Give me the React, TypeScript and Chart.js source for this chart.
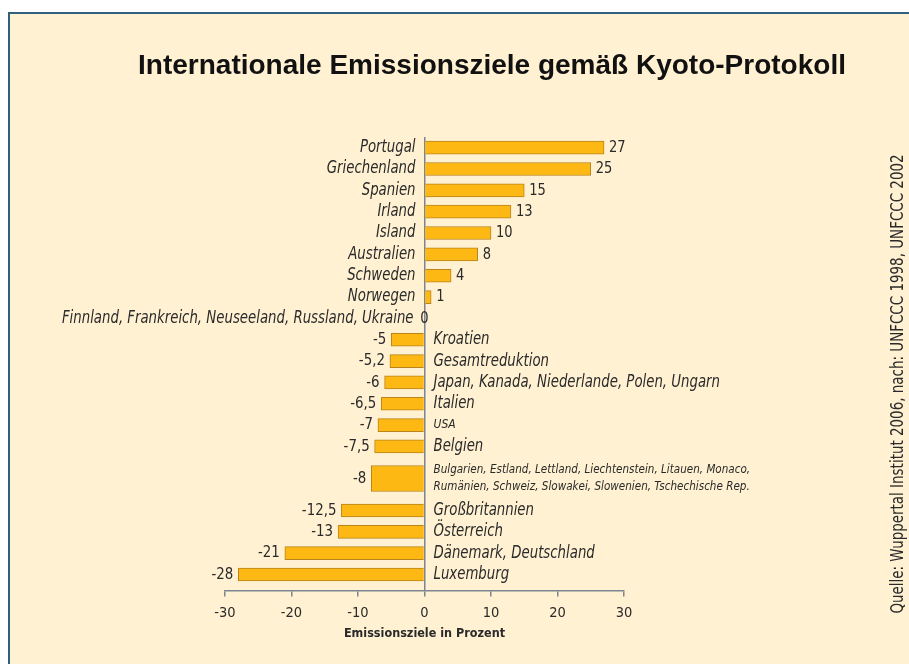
import React, { useEffect, useRef } from 'react';
import { Chart, registerables } from 'chart.js';

Chart.register(...registerables);

// ---------- data ----------
const titleText = 'Internationale Emissionsziele gemäß Kyoto-Protokoll';
const axisTitleText = 'Emissionsziele in Prozent';
const sourceText = 'Quelle: Wuppertal Institut 2006, nach: UNFCCC 1998, UNFCCC 2002';

const categories = [
  'Portugal',
  'Griechenland',
  'Spanien',
  'Irland',
  'Island',
  'Australien',
  'Schweden',
  'Norwegen',
  'Finnland, Frankreich, Neuseeland, Russland, Ukraine',
  'Kroatien',
  'Gesamtreduktion',
  'Japan, Kanada, Niederlande, Polen, Ungarn',
  'Italien',
  'USA',
  'Belgien',
  'Bulgarien, Estland, Lettland, Liechtenstein, Litauen, Monaco,\nRumänien, Schweiz, Slowakei, Slowenien, Tschechische Rep.',
  'Großbritannien',
  'Österreich',
  'Dänemark, Deutschland',
  'Luxemburg',
];

const values = [27, 25, 15, 13, 10, 8, 4, 1, 0, -5, -5.2, -6, -6.5, -7, -7.5, -8, -12.5, -13, -21, -28];

const xTicks = [-30, -20, -10, 0, 10, 20, 30];

// ---------- style ----------
const NARROW = "'Liberation Sans Narrow', 'DejaVu Sans Condensed', 'Arial Narrow', sans-serif";
const BAR_FILL = '#FDB813';
const BAR_BORDER = '#B8841C';
const TEXT = '#2a2a2a';
const AXIS = '#7d8690';
const BG = '#FFF1D2';
const FRAME = '#2F6080';

const lineCounts = categories.map((c) => c.split('\n').length);
const totalSlots = lineCounts.reduce((a, b) => a + b, 0);
const centers: number[] = [];
{
  let acc = 0;
  lineCounts.forEach((n) => {
    centers.push(acc + n / 2);
    acc += n;
  });
}

const singleData = categories
  .map((c, i) => ({ x: values[i], y: centers[i], i }))
  .filter((d) => lineCounts[d.i] === 1);
const multiData = categories
  .map((c, i) => ({ x: values[i], y: centers[i], i }))
  .filter((d) => lineCounts[d.i] > 1);

const fmt = (v: number) => String(v).replace('.', ',');

// font + horizontal squeeze for category labels
function labelStyle(i: number): [string, number] {
  if (categories[i] === 'USA') return [`italic 12px ${NARROW}`, 1];
  if (lineCounts[i] > 1) return [`italic 13px ${NARROW}`, 0.89];
  return [`italic 17px ${NARROW}`, 0.87];
}

function drawText(ctx: any, text: string, x: number, y: number, align: string, sx: number) {
  ctx.save();
  ctx.translate(x, y);
  ctx.scale(sx, 1);
  ctx.textAlign = align;
  ctx.fillText(text, 0, 0);
  ctx.restore();
}

const decorPlugin = {
  id: 'decor',
  beforeDraw(chart: any) {
    const { ctx, width, height } = chart;
    ctx.save();
    ctx.fillStyle = '#ffffff';
    ctx.fillRect(0, 0, width, height);
    ctx.fillStyle = BG;
    ctx.fillRect(8, 12, width - 8, height - 12);
    ctx.fillStyle = FRAME;
    ctx.fillRect(8, 12, 2, height - 12);
    ctx.fillRect(8, 12, width - 8, 2);
    // title
    ctx.fillStyle = '#111111';
    ctx.font = "bold 28px 'Liberation Sans', Arial, sans-serif";
    ctx.textAlign = 'center';
    ctx.textBaseline = 'middle';
    ctx.fillText(titleText, 492, 66);
    // source (rotated)
    ctx.translate(899, 384);
    ctx.rotate(-Math.PI / 2);
    ctx.fillStyle = TEXT;
    ctx.font = `17px ${NARROW}`;
    drawText(ctx, sourceText, 0, 0, 'center', 0.88);
    ctx.restore();
  },
  afterDatasetsDraw(chart: any) {
    const { ctx } = chart;
    const xScale = chart.scales.x;
    const x0 = xScale.getPixelForValue(0);
    ctx.save();
    ctx.fillStyle = TEXT;
    ctx.textBaseline = 'middle';
    chart.data.datasets.forEach((ds: any, d: number) => {
      const meta = chart.getDatasetMeta(d);
      meta.data.forEach((bar: any, j: number) => {
        const i = ds.data[j].i;
        const v = values[i];
        const lines = categories[i].split('\n');
        const y = bar.y;
        // category label
        const [font, sx] = labelStyle(i);
        ctx.font = font;
        const lh = lineCounts[i] > 1 ? 17 : 0;
        const startY = y - ((lines.length - 1) * lh) / 2;
        if (v >= 0) {
          lines.forEach((t, k) => drawText(ctx, t, x0 - (v === 0 ? 11 : 9), startY + k * lh, 'right', sx));
        } else {
          lines.forEach((t, k) => drawText(ctx, t, x0 + 9, startY + k * lh, 'left', sx));
        }
        // value label
        ctx.font = `16.5px ${NARROW}`;
        if (v > 0) {
          drawText(ctx, fmt(v), bar.x + 5, y, 'left', 0.88);
        } else if (v < 0) {
          drawText(ctx, fmt(v), bar.x - 5, y, 'right', 0.9);
        } else {
          drawText(ctx, fmt(v), x0, y, 'center', 0.88);
        }
      });
    });
    ctx.restore();
  },
};

export default function App() {
  const ref = useRef<HTMLCanvasElement>(null);
  useEffect(() => {
    if (!ref.current) return;
    const chart = new Chart(ref.current, {
      type: 'bar',
      data: {
        datasets: [
          {
            data: singleData as any,
            backgroundColor: BAR_FILL,
            borderColor: BAR_BORDER,
            borderWidth: 1,
            barThickness: 13,
            grouped: false,
          } as any,
          {
            data: multiData as any,
            backgroundColor: BAR_FILL,
            borderColor: BAR_BORDER,
            borderWidth: 1,
            barThickness: 26,
            grouped: false,
          } as any,
        ],
      },
      options: {
        indexAxis: 'y',
        animation: false,
        responsive: false,
        maintainAspectRatio: false,
        layout: { padding: { left: 225, right: 285, top: 137, bottom: 22.5 } },
        plugins: { legend: { display: false }, tooltip: { enabled: false }, title: { display: false } },
        scales: {
          x: {
            type: 'linear',
            min: -30,
            max: 30,
            afterBuildTicks: (s: any) => {
              s.ticks = xTicks.map((v) => ({ value: v }));
            },
            ticks: {
              color: TEXT,
              font: { family: NARROW, size: 14.5, lineHeight: 1.0 },
              padding: 9,
              maxRotation: 0,
              callback: (v: any) => fmt(Number(v)),
            },
            grid: {
              drawOnChartArea: true,
              color: (c: any) => (c.tick && c.tick.value === 0 ? AXIS : 'rgba(0,0,0,0)'),
              lineWidth: 1.5,
              tickColor: AXIS,
              tickLength: 6,
              tickWidth: 1.5,
            },
            border: { display: true, color: AXIS, width: 1.5 },
            title: {
              display: true,
              text: axisTitleText,
              color: TEXT,
              font: { family: NARROW, size: 12.5, weight: 'bold', lineHeight: 1.2 },
              padding: { top: -2.5, bottom: 0 },
            },
          },
          y: {
            type: 'linear',
            reverse: true,
            min: 0,
            max: totalSlots + 0.25,
            offset: false,
            display: false,
          },
        },
      } as any,
      plugins: [decorPlugin],
    });
    return () => chart.destroy();
  }, []);
  return (
    <div style={{ position: 'fixed', left: 0, top: 0, width: 909, height: 664 }}>
      <canvas ref={ref} width={909} height={664} />
    </div>
  );
}
